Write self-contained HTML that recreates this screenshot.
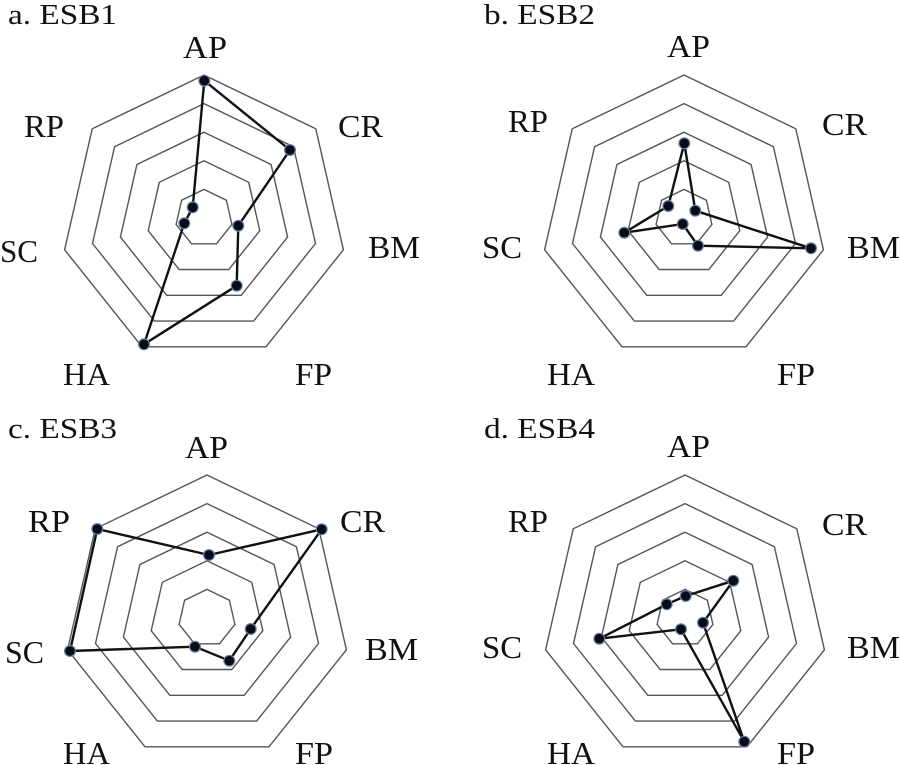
<!DOCTYPE html>
<html><head><meta charset="utf-8"><style>
html,body{margin:0;padding:0;background:#fff;}
svg{display:block;}
text{font-family:"Liberation Serif","DejaVu Serif",serif;fill:#111;}
</style></head><body>
<svg id="s" width="900" height="765" viewBox="0 0 900 765" xmlns="http://www.w3.org/2000/svg">
<g id="rings" fill="none" stroke="#555" stroke-width="1.4"></g>
<g id="data" fill="none" stroke="#111" stroke-width="2.4" stroke-linejoin="round"></g>
<g id="dots"></g>
<g font-size="32">
<text x="8" y="24" font-size="28" textLength="109" lengthAdjust="spacingAndGlyphs">a. ESB1</text>
<text x="183" y="58" textLength="44" lengthAdjust="spacingAndGlyphs">AP</text>
<text x="24" y="137" textLength="40" lengthAdjust="spacingAndGlyphs">RP</text>
<text x="338" y="137" textLength="45" lengthAdjust="spacingAndGlyphs">CR</text>
<text x="0" y="262" textLength="38" lengthAdjust="spacingAndGlyphs">SC</text>
<text x="368" y="258" textLength="52" lengthAdjust="spacingAndGlyphs">BM</text>
<text x="63" y="385" textLength="47" lengthAdjust="spacingAndGlyphs">HA</text>
<text x="295" y="385" textLength="37" lengthAdjust="spacingAndGlyphs">FP</text>

<text x="484" y="24" font-size="28" textLength="111" lengthAdjust="spacingAndGlyphs">b. ESB2</text>
<text x="667" y="57" textLength="43" lengthAdjust="spacingAndGlyphs">AP</text>
<text x="508" y="132" textLength="40" lengthAdjust="spacingAndGlyphs">RP</text>
<text x="822" y="135" textLength="45" lengthAdjust="spacingAndGlyphs">CR</text>
<text x="482" y="258" textLength="40" lengthAdjust="spacingAndGlyphs">SC</text>
<text x="847" y="258" textLength="53" lengthAdjust="spacingAndGlyphs">BM</text>
<text x="547" y="385" textLength="48" lengthAdjust="spacingAndGlyphs">HA</text>
<text x="777" y="385" textLength="38" lengthAdjust="spacingAndGlyphs">FP</text>

<text x="8" y="438" font-size="28" textLength="109" lengthAdjust="spacingAndGlyphs">c. ESB3</text>
<text x="185" y="458" textLength="43" lengthAdjust="spacingAndGlyphs">AP</text>
<text x="28" y="532" textLength="42" lengthAdjust="spacingAndGlyphs">RP</text>
<text x="340" y="532" textLength="45" lengthAdjust="spacingAndGlyphs">CR</text>
<text x="5" y="663" textLength="39" lengthAdjust="spacingAndGlyphs">SC</text>
<text x="365" y="660" textLength="53" lengthAdjust="spacingAndGlyphs">BM</text>
<text x="63" y="764" textLength="47" lengthAdjust="spacingAndGlyphs">HA</text>
<text x="295" y="764" textLength="38" lengthAdjust="spacingAndGlyphs">FP</text>

<text x="484" y="438" font-size="28" textLength="111" lengthAdjust="spacingAndGlyphs">d. ESB4</text>
<text x="667" y="457" textLength="43" lengthAdjust="spacingAndGlyphs">AP</text>
<text x="508" y="532" textLength="40" lengthAdjust="spacingAndGlyphs">RP</text>
<text x="822" y="535" textLength="45" lengthAdjust="spacingAndGlyphs">CR</text>
<text x="482" y="658" textLength="40" lengthAdjust="spacingAndGlyphs">SC</text>
<text x="847" y="658" textLength="53" lengthAdjust="spacingAndGlyphs">BM</text>
<text x="547" y="764" textLength="48" lengthAdjust="spacingAndGlyphs">HA</text>
<text x="777" y="764" textLength="38" lengthAdjust="spacingAndGlyphs">FP</text>
</g>
</svg>
<script>
var NS="http://www.w3.org/2000/svg";
var centers=[[204,218],[684,218],[207,618],[685,618]];
var R=143;
var rings=document.getElementById("rings");
centers.forEach(function(c){
  for(var k=1;k<=5;k++){
    var r=R*k/5,pts=[];
    for(var i=0;i<7;i++){var a=(-90+i*360/7)*Math.PI/180;pts.push((c[0]+r*Math.cos(a)).toFixed(1)+","+(c[1]+r*Math.sin(a)).toFixed(1));}
    var p=document.createElementNS(NS,"polygon");p.setAttribute("points",pts.join(" "));rings.appendChild(p);
  }
});
var data=[
 [[204.3,80.7],[290,150],[238.3,225.7],[236.7,285.7],[144,344.3],[184.3,223.3],[192.7,207.3]],
 [[684.3,143.3],[695.3,210.7],[811,248.3],[698,245.7],[682.7,224],[624.3,232.7],[668.3,206]],
 [[209,555],[321.7,529.3],[250.7,629],[229.3,660.7],[195,646.7],[70,651],[97.3,529]],
 [[685.7,596],[733.3,580.7],[703,622.7],[744.3,741.7],[681,629.3],[599.3,638.7],[666.7,604.3]]
];
var dg=document.getElementById("data"),dots=document.getElementById("dots");
data.forEach(function(d){
  var p=document.createElementNS(NS,"polygon");
  p.setAttribute("points",d.map(function(q){return q.join(",");}).join(" "));dg.appendChild(p);
  d.forEach(function(q){
    var h=document.createElementNS(NS,"circle");h.setAttribute("cx",q[0]);h.setAttribute("cy",q[1]);h.setAttribute("r",6);h.setAttribute("fill","#6a7fa8");dots.appendChild(h);
    var c=document.createElementNS(NS,"circle");c.setAttribute("cx",q[0]);c.setAttribute("cy",q[1]);c.setAttribute("r",4.8);c.setAttribute("fill","#0a0d18");dots.appendChild(c);
  });
});
</script>
</body></html>
